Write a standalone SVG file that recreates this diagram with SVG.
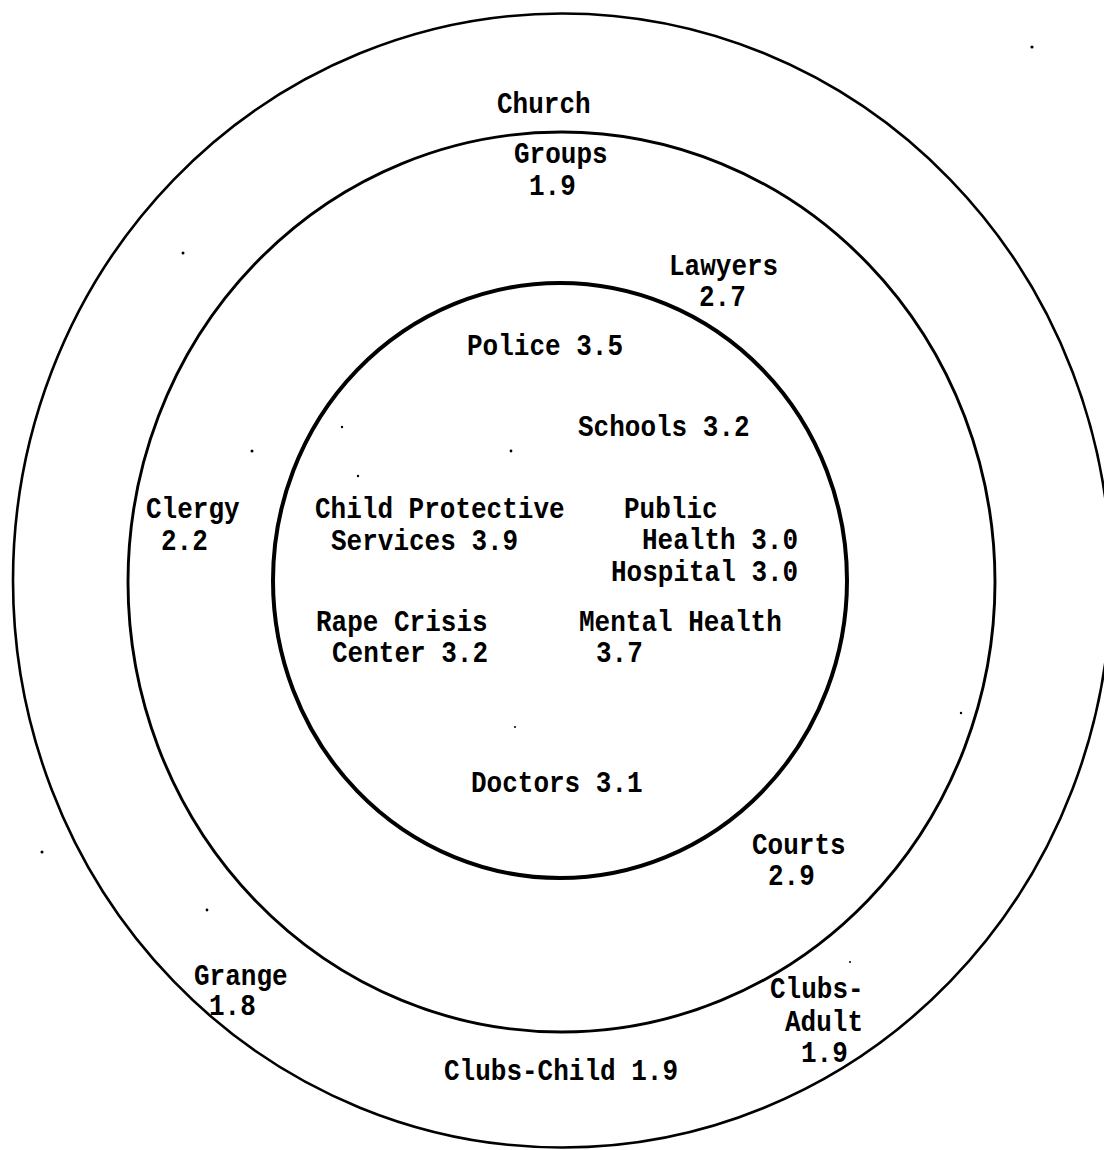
<svg xmlns="http://www.w3.org/2000/svg" width="1104" height="1150" viewBox="0 0 1104 1150">
<style>
.ring{fill:none;stroke:#000}
.lbl{font-family:"Liberation Mono","Courier New",monospace;font-size:26px;font-weight:bold;fill:#000}
.speck{fill:#000}
</style>
<rect width="1104" height="1150" fill="#fff"/>
<g id="rings">
<ellipse id="ring-outer" class="ring" cx="562" cy="580.5" rx="549" ry="567" stroke-width="2.6"/>
<ellipse id="ring-middle" class="ring" cx="561.5" cy="582" rx="433.5" ry="450" stroke-width="2.9"/>
<ellipse id="ring-inner" class="ring" cx="560" cy="580.5" rx="287" ry="297.5" stroke-width="4"/>
</g>
<g id="connectors"></g>
<g id="church-groups"><text class="lbl" transform="translate(497 113) scale(1 1.13)">Church</text><text class="lbl" transform="translate(514 163) scale(1 1.13)">Groups</text><text class="lbl" transform="translate(529 195) scale(1 1.13)">1.9</text></g>
<g id="lawyers"><text class="lbl" transform="translate(669 275) scale(1 1.13)">Lawyers</text><text class="lbl" transform="translate(699 306) scale(1 1.13)">2.7</text></g>
<g id="police"><text class="lbl" transform="translate(467 355) scale(1 1.13)">Police 3.5</text></g>
<g id="schools"><text class="lbl" transform="translate(578 436) scale(1 1.13)">Schools 3.2</text></g>
<g id="clergy"><text class="lbl" transform="translate(146 518) scale(1 1.13)">Clergy</text><text class="lbl" transform="translate(161 550) scale(1 1.13)">2.2</text></g>
<g id="cps"><text class="lbl" transform="translate(315 518) scale(1 1.13)">Child Protective</text><text class="lbl" transform="translate(331 550) scale(1 1.13)">Services 3.9</text></g>
<g id="public-health"><text class="lbl" transform="translate(624 518) scale(1 1.13)">Public</text><text class="lbl" transform="translate(642 549) scale(1 1.13)">Health 3.0</text></g>
<g id="hospital"><text class="lbl" transform="translate(611 581) scale(1 1.13)">Hospital 3.0</text></g>
<g id="rape-crisis"><text class="lbl" transform="translate(316 631) scale(1 1.13)">Rape Crisis</text><text class="lbl" transform="translate(332 662) scale(1 1.13)">Center 3.2</text></g>
<g id="mental-health"><text class="lbl" transform="translate(579 631) scale(1 1.13)">Mental Health</text><text class="lbl" transform="translate(596 662) scale(1 1.13)">3.7</text></g>
<g id="doctors"><text class="lbl" transform="translate(471 792) scale(1 1.13)">Doctors 3.1</text></g>
<g id="courts"><text class="lbl" transform="translate(752 854) scale(1 1.13)">Courts</text><text class="lbl" transform="translate(768 885) scale(1 1.13)">2.9</text></g>
<g id="grange"><text class="lbl" transform="translate(194 985) scale(1 1.13)">Grange</text><text class="lbl" transform="translate(209 1015) scale(1 1.13)">1.8</text></g>
<g id="clubs-adult"><text class="lbl" transform="translate(770 998) scale(1 1.13)">Clubs-</text><text class="lbl" transform="translate(785 1031) scale(1 1.13)">Adult</text><text class="lbl" transform="translate(801 1062) scale(1 1.13)">1.9</text></g>
<g id="clubs-child"><text class="lbl" transform="translate(444 1080) scale(1 1.13)">Clubs-Child 1.9</text></g>
<g id="specks">
<circle class="speck" cx="1032" cy="47" r="1.6"/>
<circle class="speck" cx="183" cy="253" r="1.5"/>
<circle class="speck" cx="252" cy="451" r="1.5"/>
<circle class="speck" cx="342" cy="427" r="1.2"/>
<circle class="speck" cx="358" cy="476" r="1.2"/>
<circle class="speck" cx="511" cy="451" r="1.4"/>
<circle class="speck" cx="515" cy="727" r="1"/>
<circle class="speck" cx="961" cy="713" r="1.2"/>
<circle class="speck" cx="42" cy="852" r="1.5"/>
<circle class="speck" cx="207" cy="910" r="1.4"/>
<circle class="speck" cx="850" cy="962" r="1"/>
</g>
</svg>
